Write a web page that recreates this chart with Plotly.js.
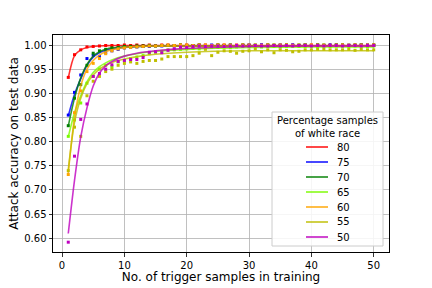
<!DOCTYPE html>
<html>
<head>
<meta charset="utf-8">
<script src="https://cdn.plot.ly/plotly-3.0.1.min.js"></script>
<style>html,body{margin:0;padding:0;background:#fff;}#chart{width:432px;height:288px;}</style>
</head>
<body>
<div id="chart"></div>
<script>
// ---- data ----
const trainSamples = Array.from({length: 50}, (_, i) => i + 1); // x = 1..50
const seriesNames = ["80", "75", "70", "65", "60", "55", "50"];
const seriesColors = ["#ff0000", "#0000ff", "#008000", "#7cfc00", "#ffa500", "#bfbf00", "#bf00bf"];

const acc80 = [0.933,0.980,0.990,0.996,0.997,0.998,0.999,0.999,0.999,1.000,
  0.999,1.000,0.999,1.000,0.999,1.000,1.000,0.999,1.000,1.000,
  0.999,1.000,1.000,0.999,1.000,1.000,0.999,1.000,1.000,1.000,
  0.999,1.000,1.000,0.999,1.000,1.000,1.000,0.999,1.000,1.000,
  1.000,0.999,1.000,1.000,1.000,0.999,1.000,1.000,1.000,1.000];
const acc75 = [0.855,0.902,0.938,0.972,0.979,0.976,0.984,0.988,0.991,0.994,
  0.995,0.996,0.997,0.997,0.998,0.998,0.999,0.998,0.999,0.999,
  0.998,0.999,0.999,1.000,0.999,0.999,1.000,0.999,0.999,1.000,
  0.999,1.000,0.999,0.999,1.000,0.999,1.000,0.999,1.000,0.999,
  1.000,0.999,1.000,1.000,0.999,1.000,0.999,1.000,1.000,0.999];
const acc70 = [0.833,0.890,0.918,0.958,0.983,0.988,0.991,0.994,0.995,0.997,
  0.997,0.998,0.998,0.999,0.998,0.999,0.999,0.999,1.000,0.999,
  0.999,1.000,0.999,0.999,1.000,0.999,1.000,0.999,1.000,0.999,
  1.000,0.999,1.000,1.000,0.999,1.000,0.999,1.000,1.000,0.999,
  1.000,1.000,0.999,1.000,1.000,0.999,1.000,1.000,0.999,1.000];
const acc65 = [0.811,0.845,0.880,0.921,0.935,0.950,0.958,0.955,0.965,0.968,
  0.972,0.975,0.978,0.982,0.985,0.987,0.990,0.990,0.991,0.992,
  0.993,0.992,0.994,0.995,0.995,0.996,0.995,0.996,0.997,0.996,
  0.997,0.996,0.997,0.997,0.996,0.997,0.998,0.997,0.997,0.998,
  0.997,0.998,0.997,0.998,0.998,0.997,0.998,0.998,0.997,0.998];
const acc60 = [0.732,0.860,0.905,0.945,0.962,0.972,0.982,0.988,0.992,0.994,
  0.995,0.996,0.997,0.998,0.998,0.999,1.000,0.999,1.000,1.000,
  0.999,1.000,1.000,0.999,1.000,1.000,1.000,0.999,1.000,1.000,
  1.000,0.999,1.000,1.000,1.000,1.000,0.999,1.000,1.000,1.000,
  1.000,1.000,0.999,1.000,1.000,1.000,1.000,1.000,1.000,1.000];
const acc55 = [0.740,0.830,0.811,0.895,0.925,0.935,0.945,0.950,0.958,0.962,
  0.965,0.962,0.966,0.968,0.968,0.971,0.976,0.976,0.976,0.976,
  0.978,0.983,0.991,0.978,0.985,0.988,0.987,0.983,0.987,0.988,
  0.992,0.986,0.990,0.984,0.990,0.989,0.986,0.987,0.990,0.990,
  0.991,0.991,0.990,0.990,0.990,0.991,0.989,0.991,0.990,0.990];
const acc50 = [0.592,0.770,0.846,0.878,0.935,0.941,0.950,0.959,0.966,0.968,
  0.970,0.970,0.974,0.985,0.986,0.984,0.989,0.992,0.996,0.995,
  0.997,0.998,0.997,0.998,0.998,0.997,0.998,0.999,0.998,0.998,
  0.999,0.998,0.998,0.999,0.998,0.999,0.998,0.999,0.999,0.998,
  0.999,0.998,0.999,0.999,0.998,0.999,0.999,0.998,0.999,0.999];

// fitted trend curves, read at these x positions
const fitX = [1, 2, 3, 4, 5, 6, 7, 8, 10, 12, 15, 20, 30, 40, 50];
const fit80 = [0.932,0.978,0.990,0.995,0.997,0.998,0.9985,0.999,0.999,0.999,0.999,0.999,0.999,0.999,0.999];
const fit75 = [0.853,0.898,0.930,0.958,0.975,0.984,0.989,0.992,0.995,0.997,0.998,0.998,0.998,0.998,0.998];
const fit70 = [0.832,0.890,0.932,0.960,0.977,0.986,0.991,0.994,0.996,0.997,0.998,0.998,0.998,0.998,0.998];
const fit65 = [0.810,0.860,0.895,0.924,0.943,0.955,0.963,0.969,0.977,0.982,0.987,0.991,0.995,0.996,0.996];
const fit60 = [0.735,0.850,0.915,0.950,0.968,0.979,0.986,0.990,0.995,0.997,0.998,0.998,0.998,0.998,0.998];
const fit55 = [0.742,0.840,0.890,0.920,0.938,0.950,0.958,0.964,0.971,0.976,0.981,0.985,0.988,0.988,0.988];
const fit50 = [0.610,0.720,0.810,0.870,0.915,0.942,0.957,0.966,0.977,0.983,0.988,0.993,0.997,0.998,0.998];

const pointSets = [acc80, acc75, acc70, acc65, acc60, acc55, acc50];
const fitSets = [fit80, fit75, fit70, fit65, fit60, fit55, fit50];

const legendTitle = "Percentage samples<br>of white race";
const xTitle = "No. of trigger samples in training";
const yTitle = "Attack accuracy on test data";

// ---- traces ----
const traces = [];
pointSets.forEach((ys, i) => {
  traces.push({
    x: trainSamples, y: ys, type: "scatter", mode: "markers",
    marker: {symbol: "square", size: 3, color: seriesColors[i]},
    showlegend: false, hoverinfo: "skip"
  });
  traces.push({
    x: fitX, y: fitSets[i], type: "scatter", mode: "lines",
    line: {color: seriesColors[i], width: 1.6, shape: "spline", smoothing: 0.8},
    opacity: 0.8, name: seriesNames[i], showlegend: false
  });
});

// ---- custom legend (matplotlib-like compact layout) ----
const PL = 53, PR = 389, PT = 35, PB = 252;
const fx = px => (px - PL) / (PR - PL);
const fy = py => (PB - py) / (PB - PT);
const shapes = [{
  type: "rect", xref: "paper", yref: "paper",
  x0: fx(272), x1: fx(383), y0: fy(246), y1: fy(112),
  line: {color: "#cccccc", width: 1}, fillcolor: "rgba(255,255,255,0.85)", layer: "above"
}];
const annotations = [{
  xref: "paper", yref: "paper", x: fx(327.5), y: fy(126.5),
  text: legendTitle, showarrow: false, xanchor: "center", yanchor: "middle",
  font: {family: "DejaVu Sans", size: 10, color: "#000"}
}];
seriesNames.forEach((nm, i) => {
  const yy = 147 + 15 * i;
  shapes.push({
    type: "line", xref: "paper", yref: "paper",
    x0: fx(306), x1: fx(328), y0: fy(yy), y1: fy(yy),
    line: {color: seriesColors[i], width: 1.8}, opacity: 0.8, layer: "above"
  });
  annotations.push({
    xref: "paper", yref: "paper", x: fx(335), y: fy(yy),
    text: nm, showarrow: false, xanchor: "left", yanchor: "middle",
    font: {family: "DejaVu Sans", size: 10, color: "#000"}
  });
});

const axisCommon = {
  showline: true, mirror: true, linecolor: "#000", linewidth: 1,
  ticks: "outside", ticklen: 3.5, tickwidth: 0.8, tickcolor: "#000",
  showgrid: true, gridcolor: "#b0b0b0", gridwidth: 0.8, zeroline: false,
  tickfont: {family: "DejaVu Sans", size: 10, color: "#000"}
};

const layout = {
  width: 432, height: 288,
  margin: {l: PL, r: 432 - PR, t: PT, b: 288 - PB, pad: 0},
  paper_bgcolor: "#fff", plot_bgcolor: "#fff",
  showlegend: false,
  xaxis: Object.assign({}, axisCommon, {
    range: [-1.45, 52.45], tickvals: [0, 10, 20, 30, 40, 50],
    title: {text: xTitle, font: {family: "DejaVu Sans", size: 12, color: "#000"}, standoff: 3}
  }),
  yaxis: Object.assign({}, axisCommon, {
    range: [0.5717, 1.0207], tickvals: [0.60, 0.65, 0.70, 0.75, 0.80, 0.85, 0.90, 0.95, 1.00],
    tickformat: ".2f",
    title: {text: yTitle, font: {family: "DejaVu Sans", size: 12, color: "#000"}, standoff: 3}
  }),
  shapes: shapes, annotations: annotations
};

Plotly.newPlot("chart", traces, layout, {staticPlot: true, displayModeBar: false});
</script>
</body>
</html>
